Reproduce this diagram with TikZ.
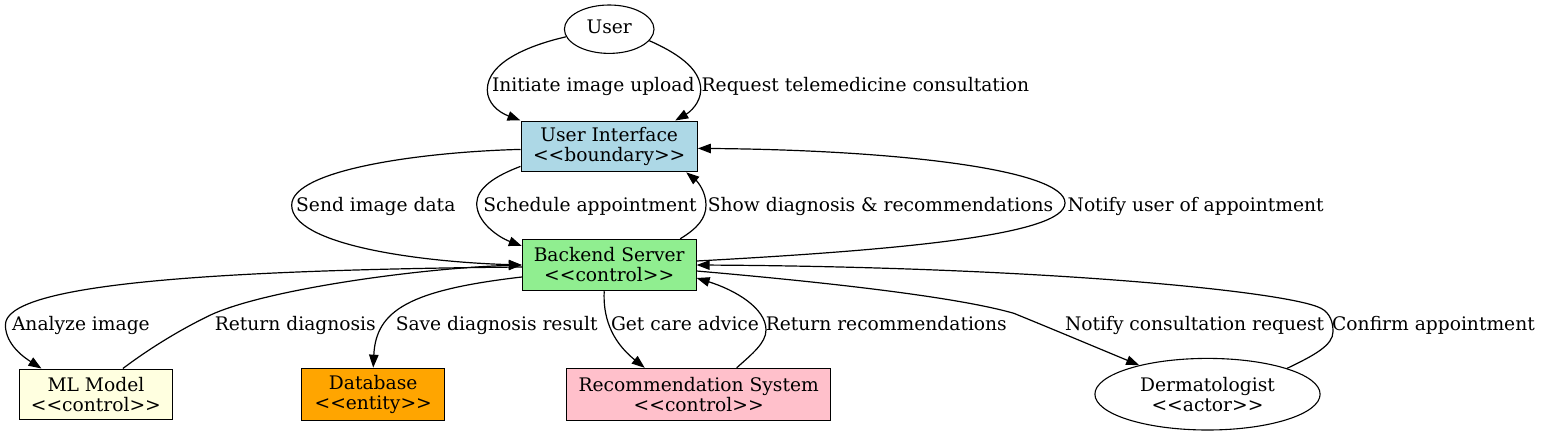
\documentclass[tikz,border=0pt]{standalone}
\usepackage{fontspec}
\setmainfont{DejaVu Serif}[Ligatures=TeXOff]
\usetikzlibrary{arrows.meta,shapes.geometric}
\definecolor{uiblue}{HTML}{ADD8E6}
\definecolor{begreen}{HTML}{90EE90}
\definecolor{mlyellow}{HTML}{FFFFE0}
\definecolor{dborange}{HTML}{FFA500}
\definecolor{rspink}{HTML}{FFC0CB}
\begin{document}
\begin{tikzpicture}[x=1pt,y=-1pt,
  every node/.style={font=\fontsize{18.67}{20}\selectfont},
  box/.style={draw=black, line width=1.1pt, rectangle, inner sep=0pt, align=center},
  oval/.style={draw=black, line width=1.1pt, ellipse, inner sep=0pt, align=center},
  edgeln/.style={draw, line width=1.2pt, -{Triangle[length=13pt,width=9.5pt]}},
  lbl/.style={anchor=base, inner sep=0pt}]
\useasboundingbox (0,0) rectangle (1541,436);
% nodes
\node[oval, minimum width=89.6pt, minimum height=48.4pt, text height=14pt, text depth=5.8pt] (user) at (609.2,29.2) {User};
\node[box, fill=uiblue, minimum width=176.3pt, minimum height=50.7pt] (ui) at (609.2,146.4) {User Interface\\<<boundary>>};
\node[box, fill=begreen, minimum width=173.7pt, minimum height=51.4pt] (be) at (609.2,265) {Backend Server\\<<control>>};
\node[box, fill=mlyellow, minimum width=153.7pt, minimum height=50.3pt] (ml) at (95.9,394.2) {ML Model\\<<control>>};
\node[box, fill=dborange, minimum width=142.8pt, minimum height=52pt] (db) at (373.2,394.2) {Database\\<<entity>>};
\node[box, fill=rspink, minimum width=264pt, minimum height=51.7pt] (rs) at (698.7,394.2) {Recommendation System\\<<control>>};
\node[oval, minimum width=225.2pt, minimum height=71.6pt] (derm) at (1207.5,394.2) {Dermatologist\\<<actor>>};
% edges
\draw[edgeln] (user.190) .. controls (530,45) and (487,62) .. (487.3,90) .. controls (487.5,103) and (498,112) .. (ui.north west);
\draw[edgeln] (user.-16) .. controls (675,52) and (701,68) .. (700.7,90) .. controls (700.5,103) and (690,112) .. ([xshift=66pt]ui.north);
\draw[edgeln] ([yshift=-3pt]ui.west) .. controls (420,152) and (292,170) .. (291.7,205) .. controls (291.5,245) and (420,262) .. (be.west);
\draw[edgeln] ([yshift=-20pt]ui.west) .. controls (495,176) and (477,188) .. (476.7,203.3) .. controls (476.5,222) and (498,237) .. ([yshift=19pt]be.west);
\draw[edgeln] ([xshift=71pt]be.north) .. controls (698,228) and (706,218) .. (706,205) .. controls (706,192) and (698,182) .. ([xshift=77pt]ui.south);
\draw[edgeln] ([yshift=4pt]be.east) .. controls (900,250) and (1065,235) .. (1065,203) .. controls (1065,170) and (900,150) .. ([yshift=-2pt]ui.east);
\draw[edgeln] ([yshift=-2pt]be.west) .. controls (200,270) and (5,285) .. (5.4,325) .. controls (5.5,345) and (25,358) .. ([xshift=23pt]ml.north west);
\draw[edgeln] ([xshift=27pt]ml.north) .. controls (150,348) and (180,330) .. (207,316.7) .. controls (260,290) and (420,268) .. (be.west);
\draw[edgeln] ([yshift=-12pt]be.west) .. controls (410,290) and (376,310) .. (db.north);
\draw[edgeln] ([xshift=-5pt]be.south) .. controls (603,315) and (610,340) .. ([xshift=-54pt]rs.north);
\draw[edgeln] ([xshift=38pt]rs.north) .. controls (752,354) and (766,343) .. (766,330) .. controls (766,308) and (735,290) .. ([yshift=-13pt]be.east);
\draw[edgeln] ([yshift=-6pt]be.east) .. controls (800,280) and (950,295) .. (1013.8,313.3) .. controls (1050,328) and (1100,349) .. (derm.157);
\draw[edgeln] (derm.18) .. controls (1315,355) and (1333,345) .. (1333,331.7) .. controls (1333,322) and (1330,313) .. (1321,308.3) .. controls (1290,292) and (1050,267) .. (be.east);
% labels
\node[lbl] (l1) at (593.3,91.7) {Initiate image upload};
\node[lbl] (l2) at (865.4,91.7) {Request telemedicine consultation};
\node[lbl] (l3) at (375.8,211) {Send image data};
\node[lbl] (l4) at (590,211) {Schedule appointment};
\node[lbl] (l5) at (880.6,211) {Show diagnosis \& recommendations};
\node[lbl] (l6) at (1195.7,211) {Notify user of appointment};
\node[lbl] (l7) at (80.9,330) {Analyze image};
\node[lbl] (l8) at (295.3,330) {Return diagnosis};
\node[lbl] (l9) at (496.7,330) {Save diagnosis result};
\node[lbl] (l10) at (685,330) {Get care advice};
\node[lbl] (l11) at (886.3,330) {Return recommendations};
\node[lbl] (l12) at (1194.6,330) {Notify consultation request};
\node[lbl] (l13) at (1433.5,330) {Confirm appointment};
\end{tikzpicture}
\end{document}
